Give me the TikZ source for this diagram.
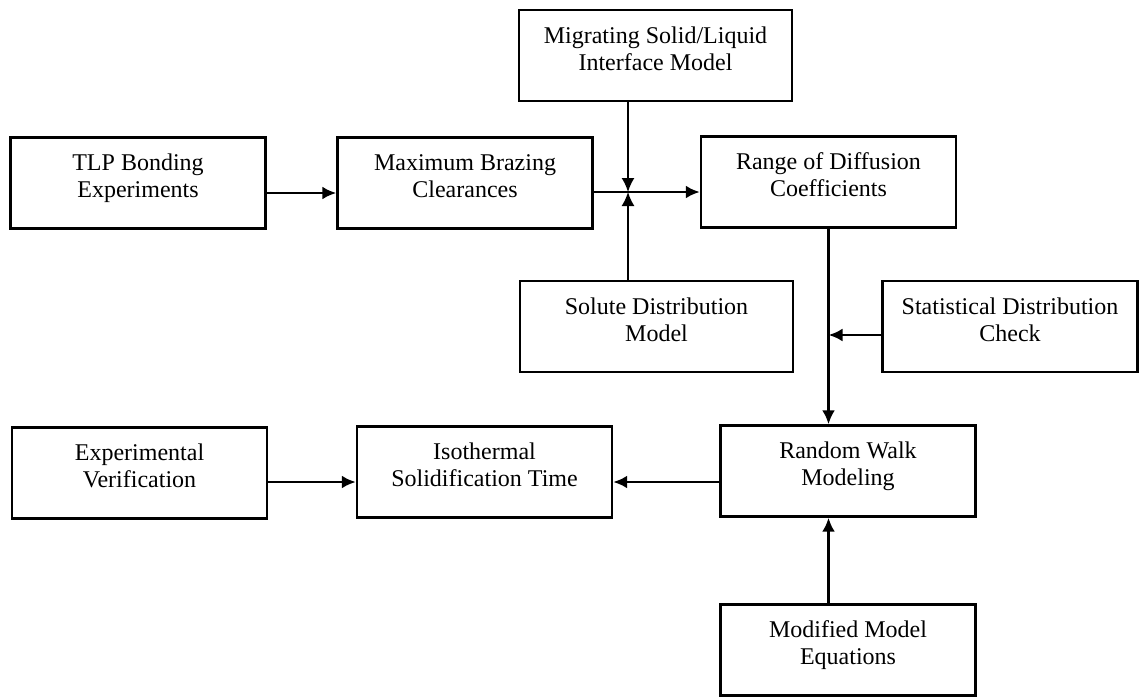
\documentclass[tikz,border=0pt]{standalone}
\usepackage{fontspec}
\setmainfont{Liberation Serif}
\usetikzlibrary{arrows.meta}
\tikzset{
  blockbox/.style={draw, line width=1.2pt, minimum width=127.5pt, minimum height=45.5pt,
    align=center, inner sep=2pt, text height=22pt, text depth=7.5pt,
    font=\fontsize{12}{13.5}\selectfont},
  widebox/.style={blockbox, minimum width=136.5pt},
  flow/.style={line width=1.4pt, -{Latex[length=7pt,width=6.5pt]}},
  feed/.style={line width=0.9pt, -{Latex[length=7pt,width=6.5pt]}}
}
\begin{document}
\begin{tikzpicture}[x=0.5pt,y=-0.5pt]
  \useasboundingbox (0,0) rectangle (1139,696);
  % upper row
  \node[blockbox] (tlp) at (138,183) {TLP Bonding\\Experiments};
  \node[blockbox] (brazing) at (465,183) {Maximum Brazing\\Clearances};
  \node[blockbox] (range) at (828.5,182) {Range of Diffusion\\Coefficients};
  \node[widebox] (migrating) at (655.5,55.5) {Migrating Solid/Liquid\\Interface Model};
  \node[widebox] (solute) at (656.5,326.5) {Solute Distribution\\Model};
  \node[blockbox] (statistical) at (1010,326.5) {Statistical Distribution\\Check};
  % lower row
  \node[blockbox] (experimental) at (139.5,473) {Experimental\\Verification};
  \node[blockbox] (isothermal) at (484.5,472) {Isothermal\\Solidification Time};
  \node[blockbox] (randomwalk) at (848,471) {Random Walk\\Modeling};
  \node[blockbox] (modified) at (848,650) {Modified Model\\Equations};
  % connectors
  \coordinate (jct) at (628,192);
  \draw[flow] ([yshift=-5pt]tlp.east) -- ([yshift=-5pt]brazing.west);
  \draw[line width=1.4pt] ([yshift=-4.5pt]brazing.east) -- (jct);
  \draw[flow] (jct) -- (jct -| range.west);
  \draw[feed] (migrating.south -| jct) -- (jct);
  \draw[feed] (solute.north -| jct) -- (jct);
  \draw[flow] (range.south) -- (range.south |- randomwalk.north);
  \draw[flow] ([yshift=-4.25pt]statistical.west) -- ([yshift=-4.25pt]statistical.west -| range.south);
  \draw[flow] ([yshift=-5.5pt]randomwalk.west) -- ([yshift=-5.5pt]randomwalk.west -| isothermal.east);
  \draw[flow] ([yshift=-4.5pt]experimental.east) -- ([yshift=-4.5pt]experimental.east -| isothermal.west);
  \draw[flow] (modified.north -| range.south) -- (randomwalk.south -| range.south);
\end{tikzpicture}
\end{document}
